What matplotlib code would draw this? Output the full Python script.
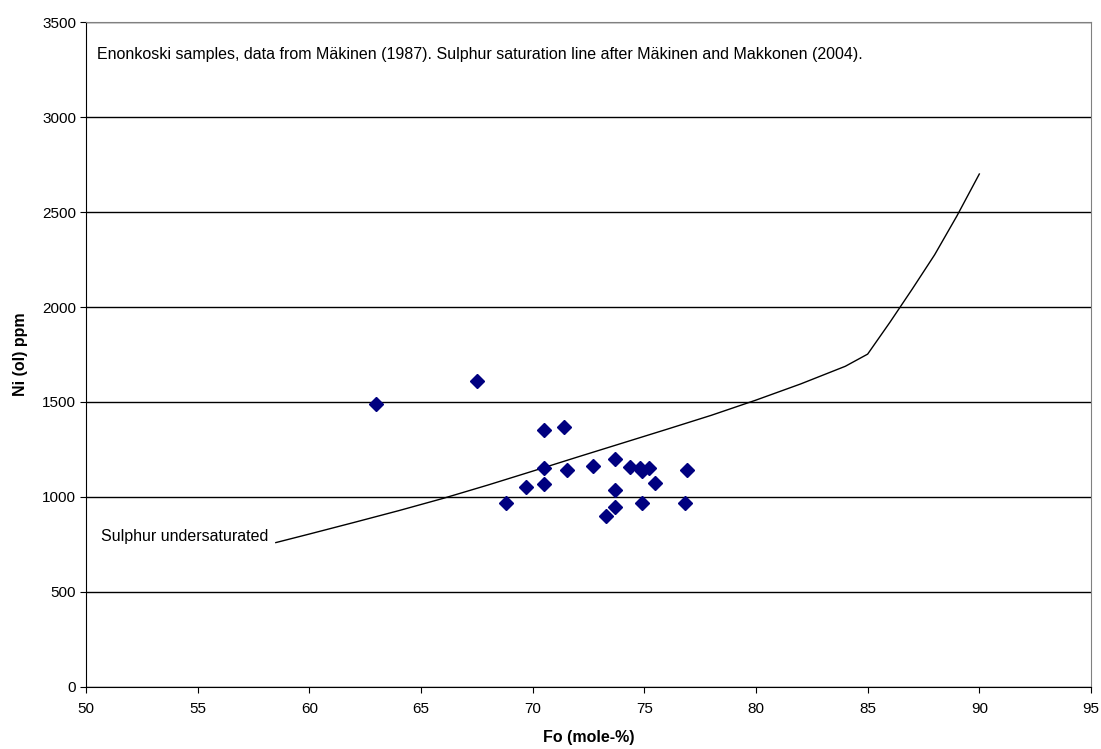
import matplotlib.pyplot as plt

plt.rcParams['font.family'] = ['Liberation Sans', 'DejaVu Sans']

# Enonkoski olivine analyses
fo = [63.0, 67.5, 70.5, 71.4, 70.5, 71.55, 72.7, 73.7, 74.35, 74.8, 74.9,
      75.2, 76.9, 69.7, 70.5, 75.5, 73.7, 68.8, 73.7, 73.3, 74.9, 76.8]
ni = [1490, 1610, 1355, 1370, 1150, 1140, 1165, 1200, 1158, 1153, 1135,
      1153, 1140, 1054, 1066, 1074, 1035, 966, 949, 902, 966, 966]

# sulphur saturation line (Mäkinen & Makkonen 2004)
line_fo = [58.5, 60, 62, 64, 66, 68, 70, 72, 74, 76, 78, 80, 82, 84, 85,
           86, 87, 88, 89, 90]
line_ni = [760, 805, 866, 928, 993, 1063, 1136, 1210, 1283, 1356, 1430,
           1510, 1595, 1688, 1752, 1920, 2095, 2275, 2480, 2700]

fig = plt.figure(figsize=(11.01, 7.49), dpi=100)
ax = fig.add_axes([0.0781, 0.0828, 0.9128, 0.8878])

ax.plot(line_fo, line_ni, color='black', linewidth=1.0)
ax.plot(fo, ni, linestyle='none', marker='D', markersize=7,
        color='#000080', markeredgecolor='#000080')

ax.set_xlim(50, 95)
ax.set_ylim(0, 3500)
ax.set_xticks(range(50, 96, 5))
ax.set_yticks(range(0, 3501, 500))
ax.yaxis.grid(True, color='black', linewidth=1.0)
ax.set_axisbelow(True)

for s in ['top', 'right']:
    ax.spines[s].set_color('#808080')
for s in ['left', 'bottom']:
    ax.spines[s].set_color('black')
ax.tick_params(direction='out', length=4, labelsize=11, colors='black')
ax.tick_params(axis='x', pad=7)
ax.tick_params(axis='y', pad=3)

ax.set_xlabel('Fo (mole-%)', fontsize=11.5, fontweight='bold', labelpad=10)
ax.set_ylabel('Ni (ol) ppm', fontsize=11.5, fontweight='bold', labelpad=10)

ax.text(50.5, 3330, 'Enonkoski samples, data from Mäkinen (1987). Sulphur saturation '
        'line after Mäkinen and Makkonen (2004).', fontsize=11.5, va='center')
ax.text(50.65, 791, 'Sulphur undersaturated', fontsize=11.5, va='center')

fig.savefig('out.png', dpi=100, facecolor='white')
